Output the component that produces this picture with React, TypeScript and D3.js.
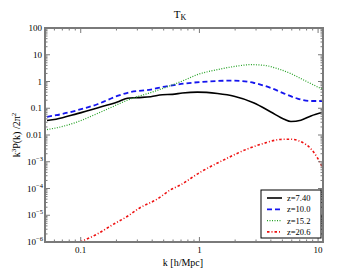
import React from "react";
import * as d3 from "d3";

// k [h/Mpc] and k^3 P(k) / 2pi^2
const kBlack = [0.052, 0.062, 0.0936, 0.138, 0.2035, 0.247, 0.30, 0.389, 0.488, 0.592, 0.719, 0.962, 1.42, 1.96, 2.89, 4.0, 5.18, 5.9, 7.16, 8.7, 11.0];
const vBlack = [0.035, 0.039, 0.063, 0.103, 0.172, 0.235, 0.25, 0.27, 0.32, 0.33, 0.37, 0.4, 0.354, 0.281, 0.158, 0.0728, 0.0389, 0.0319, 0.0357, 0.0516, 0.0709];

const kBlue = [0.052, 0.062, 0.0936, 0.138, 0.2035, 0.264, 0.389, 0.488, 0.592, 0.743, 1.03, 1.96, 2.89, 4.0, 5.18, 6.7, 8.7, 11.0];
const vBlue = [0.048, 0.0548, 0.0842, 0.141, 0.288, 0.406, 0.5, 0.62, 0.72, 0.835, 0.958, 1.08, 0.879, 0.572, 0.354, 0.23, 0.187, 0.187];

const kGreen = [0.052, 0.062, 0.0936, 0.138, 0.2035, 0.247, 0.389, 0.488, 0.743, 0.962, 1.42, 2.09, 2.71, 3.51, 4.55, 5.9, 7.64, 11.0];
const vGreen = [0.016, 0.0184, 0.0308, 0.0634, 0.137, 0.2, 0.385, 0.543, 1.11, 1.81, 2.78, 3.79, 4.27, 4.02, 3.03, 1.97, 1.11, 0.499];

const kRed = [0.0987, 0.1364, 0.188, 0.244, 0.316, 0.437, 0.566, 0.688, 1.01, 1.59, 2.51, 3.46, 4.79, 5.82, 8.05, 9.77, 11.0];
const vRed = [1e-6, 1.94e-6, 4.57e-6, 8.79e-6, 1.91e-5, 3.92e-5, 8.71e-5, 1.34e-4, 3.99e-4, 1.15e-3, 2.95e-3, 4.82e-3, 6.79e-3, 6.97e-3, 4.16e-3, 1.52e-3, 5.62e-4];

const seriesNames = ["z=7.40", "z=10.0", "z=15.2", "z=20.6"];
const seriesColors = ["#000000", "#1515ee", "#22a022", "#ee1111"];
const seriesDash = ["", "5,3", "1,1.5", "2.5,2,1,2"];
const seriesWidth = [1.6, 1.8, 1.2, 1.6];
const seriesK = [kBlack, kBlue, kGreen, kRed];
const seriesV = [vBlack, vBlue, vGreen, vRed];

const xMajor = [0.1, 1, 10];
const xMajorLabels = ["0.1", "1", "10"];
const yMajor = [1e-6, 1e-5, 1e-4, 1e-3, 0.01, 0.1, 1, 10, 100];
const yBase = ["10", "10", "10", "10", "0.01", "0.1", "1", "10", "100"];
const yExp = ["\u22126", "\u22125", "\u22124", "\u22123", "", "", "", "", ""];

const W = 360, H = 270;
const m = { left: 45, right: 37, top: 28, bottom: 28 };
const FONT = "'Liberation Serif', 'DejaVu Serif', serif";
const AX = "#7a7a7a";

export default function App() {
  const x = d3.scaleLog().domain([0.05, 11]).range([m.left, W - m.right]);
  const y = d3.scaleLog().domain([1e-6, 100]).range([H - m.bottom, m.top]);
  const [x0, x1] = x.range();
  const [y0, y1] = y.range();

  const line = d3.line<[number, number]>()
    .x(d => x(d[0]))
    .y(d => y(d[1]))
    .curve(d3.curveMonotoneX);

  const xMinor: number[] = [];
  for (const dec of [0.01, 0.1, 1, 10]) {
    for (let i = 2; i <= 9; i++) {
      const v = dec * i;
      if (v > 0.05 && v < 11) xMinor.push(v);
    }
  }
  const yMinor: number[] = [];
  for (const dec of [1e-6, 1e-5, 1e-4, 1e-3, 0.01, 0.1, 1, 10]) {
    for (let i = 2; i <= 9; i++) yMinor.push(dec * i);
  }

  const lx = 261, ly = 190, lw = 60, lh = 48;

  return (
    <svg width={W} height={H} style={{ position: "absolute", left: 0, top: 0, background: "#fff" }}
      fontFamily={FONT}>
      <defs>
        <clipPath id="plot">
          <rect x={x0} y={y1} width={x1 - x0} height={y0 - y1} />
        </clipPath>
      </defs>

      {/* curves */}
      <g clipPath="url(#plot)">
        {seriesK.map((ks, s) => (
          <path key={s}
            d={line(ks.map((k, i) => [k, seriesV[s][i]] as [number, number])) || ""}
            fill="none" stroke={seriesColors[s]} strokeWidth={seriesWidth[s]}
            strokeDasharray={seriesDash[s]} />
        ))}
      </g>

      {/* ticks */}
      <g stroke={AX} strokeWidth={1}>
        {xMajor.map(v => (
          <g key={"xm" + v}>
            <line x1={x(v)} x2={x(v)} y1={y0} y2={y0 - 5} />
            <line x1={x(v)} x2={x(v)} y1={y1} y2={y1 + 5} />
          </g>
        ))}
        {xMinor.map(v => (
          <g key={"xn" + v}>
            <line x1={x(v)} x2={x(v)} y1={y0} y2={y0 - 2.5} />
            <line x1={x(v)} x2={x(v)} y1={y1} y2={y1 + 2.5} />
          </g>
        ))}
        {yMajor.map(v => (
          <g key={"ym" + v}>
            <line x1={x0} x2={x0 + 5} y1={y(v)} y2={y(v)} />
            <line x1={x1} x2={x1 - 5} y1={y(v)} y2={y(v)} />
          </g>
        ))}
        {yMinor.map(v => (
          <g key={"yn" + v}>
            <line x1={x0} x2={x0 + 2.5} y1={y(v)} y2={y(v)} />
            <line x1={x1} x2={x1 - 2.5} y1={y(v)} y2={y(v)} />
          </g>
        ))}
      </g>

      {/* frame */}
      <rect x={x0} y={y1} width={x1 - x0} height={y0 - y1} fill="none" stroke={AX} strokeWidth={2} />

      {/* tick labels */}
      <g fontSize={9} fill="#000">
        {xMajor.map((v, i) => (
          <text key={"xl" + v} x={x(v)} y={y0 + 10.5} textAnchor="middle">{xMajorLabels[i]}</text>
        ))}
        {yMajor.map((v, i) => (
          <text key={"yl" + v} x={x0 - (yExp[i] ? 9 : 3)} y={y(v) + 3} textAnchor="end">{yBase[i]}</text>
        ))}
        {yMajor.map((v, i) => yExp[i] ? (
          <text key={"ye" + v} x={x0 - 9} y={y(v) - 1} fontSize={6.5} textAnchor="start">{yExp[i]}</text>
        ) : null)}
      </g>

      {/* title and axis labels */}
      <text x={180} y={18} fontSize={11} textAnchor="middle">
        T<tspan fontSize={8} dy={2}>K</tspan>
      </text>
      <text x={183} y={265.5} fontSize={10} textAnchor="middle">k [h/Mpc]</text>
      <text transform={`translate(20,${(y0 + y1) / 2}) rotate(-90)`} fontSize={10} textAnchor="middle">
        k<tspan fontSize={7} dy={-4}>3</tspan><tspan dy={4}>P(k) /2π</tspan><tspan fontSize={7} dy={-4}>2</tspan>
      </text>

      {/* legend */}
      <rect x={lx} y={ly} width={lw} height={lh} fill="#fff" stroke="#000" strokeWidth={1} />
      {seriesNames.map((name, i) => {
        const yy = ly + 8 + i * 11.3;
        return (
          <g key={name}>
            <line x1={lx + 6} x2={lx + 21} y1={yy} y2={yy} stroke={seriesColors[i]}
              strokeWidth={seriesWidth[i]} strokeDasharray={seriesDash[i]} />
            <text x={lx + 26} y={yy + 3} fontSize={8.5}>{name}</text>
          </g>
        );
      })}
    </svg>
  );
}
